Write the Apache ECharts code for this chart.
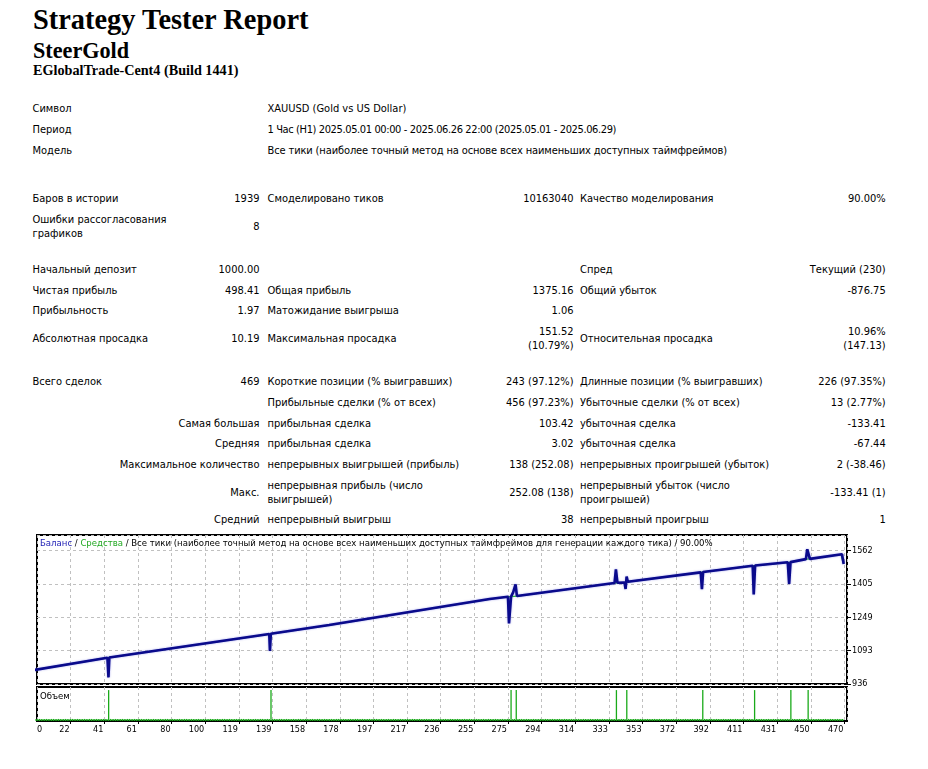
<!DOCTYPE html>
<html>
<head>
<meta charset="utf-8">
<script src="https://cdn.jsdelivr.net/npm/echarts@6/dist/echarts.min.js"></script>
<style>
    body { margin: 0; background: #fff; }
    #page { position: relative; width: 928px; height: 769px; overflow: hidden; background: #fff; color: #000;
        font-family: 'DejaVu Sans Condensed', Tahoma, sans-serif; font-size: 11px; }
    .hd { position: absolute; left: 33px; font-family: 'Liberation Serif', 'Times New Roman', serif; font-weight: bold;
        line-height: 1; white-space: nowrap; }
    .r { position: absolute; left: 0; width: 928px; height: 30px; }
    .r span { position: absolute; top: 0; line-height: 14px; white-space: nowrap; }
    .r span.m { top: 7px; }
    .r span.m6 { top: 6.5px; }
    .r span.t { line-height: 13.5px; }
    .l1 { left: 32.5px; }
    .v2 { right: 668.5px; text-align: right; }
    .l3 { left: 267.5px; }
    .v4 { right: 354.5px; text-align: right; }
    .l5 { left: 580px; }
    .v6 { right: 42.3px; text-align: right; }
    #chart { position: absolute; left: 0; top: 520px; width: 928px; height: 249px; }
</style>
</head>
<body>
<div id="page">
    <div class="hd" style="top:5.5px;font-size:28.4px">Strategy Tester Report</div>
    <div class="hd" style="top:39.5px;font-size:22.2px">SteerGold</div>
    <div class="hd" style="top:63px;font-size:14.2px">EGlobalTrade-Cent4 (Build 1441)</div>

    <div class="r" style="top:101.5px"><span class="l1">Символ</span><span class="l3">XAUUSD (Gold vs US Dollar)</span></div>
    <div class="r" style="top:122.5px"><span class="l1">Период</span><span class="l3" style="letter-spacing:-0.38px">1 Час (H1) 2025.05.01 00:00 - 2025.06.26 22:00 (2025.05.01 - 2025.06.29)</span></div>
    <div class="r" style="top:143.5px"><span class="l1">Модель</span><span class="l3" style="letter-spacing:-0.12px">Все тики (наиболее точный метод на основе всех наименьших доступных таймфреймов)</span></div>

    <div class="r" style="top:191.5px"><span class="l1">Баров в истории</span><span class="v2">1939</span><span class="l3">Смоделировано тиков</span><span class="v4">10163040</span><span class="l5">Качество моделирования</span><span class="v6">90.00%</span></div>
    <div class="r" style="top:212.5px"><span class="l1">Ошибки рассогласования<br>графиков</span><span class="v2 m">8</span></div>

    <div class="r" style="top:262.5px"><span class="l1">Начальный депозит</span><span class="v2">1000.00</span><span class="l5">Спред</span><span class="v6">Текущий (230)</span></div>
    <div class="r" style="top:283.5px"><span class="l1">Чистая прибыль</span><span class="v2">498.41</span><span class="l3">Общая прибыль</span><span class="v4">1375.16</span><span class="l5">Общий убыток</span><span class="v6">-876.75</span></div>
    <div class="r" style="top:303.5px"><span class="l1">Прибыльность</span><span class="v2">1.97</span><span class="l3">Матожидание выигрыша</span><span class="v4">1.06</span></div>
    <div class="r" style="top:324.5px"><span class="l1 m">Абсолютная просадка</span><span class="v2 m">10.19</span><span class="l3 m">Максимальная просадка</span><span class="v4">151.52<br>(10.79%)</span><span class="l5 m">Относительная просадка</span><span class="v6">10.96%<br>(147.13)</span></div>

    <div class="r" style="top:374.5px"><span class="l1">Всего сделок</span><span class="v2">469</span><span class="l3">Короткие позиции (% выигравших)</span><span class="v4">243 (97.12%)</span><span class="l5">Длинные позиции (% выигравших)</span><span class="v6">226 (97.35%)</span></div>
    <div class="r" style="top:396px"><span class="l3">Прибыльные сделки (% от всех)</span><span class="v4">456 (97.23%)</span><span class="l5">Убыточные сделки (% от всех)</span><span class="v6">13 (2.77%)</span></div>
    <div class="r" style="top:416.5px"><span class="v2">Самая большая</span><span class="l3">прибыльная сделка</span><span class="v4">103.42</span><span class="l5">убыточная сделка</span><span class="v6">-133.41</span></div>
    <div class="r" style="top:437px"><span class="v2">Средняя</span><span class="l3">прибыльная сделка</span><span class="v4">3.02</span><span class="l5">убыточная сделка</span><span class="v6">-67.44</span></div>
    <div class="r" style="top:457.5px"><span class="v2">Максимальное количество</span><span class="l3">непрерывных выигрышей (прибыль)</span><span class="v4">138 (252.08)</span><span class="l5">непрерывных проигрышей (убыток)</span><span class="v6">2 (-38.46)</span></div>
    <div class="r" style="top:479px"><span class="v2 m6">Макс.</span><span class="l3 t">непрерывная прибыль (число<br>выигрышей)</span><span class="v4 m6">252.08 (138)</span><span class="l5 t">непрерывный убыток (число<br>проигрышей)</span><span class="v6 m6">-133.41 (1)</span></div>
    <div class="r" style="top:513px"><span class="v2">Средний</span><span class="l3">непрерывный выигрыш</span><span class="v4">38</span><span class="l5">непрерывный проигрыш</span><span class="v6">1</span></div>

    <div id="chart"></div>
</div>
<script>
    // подписи осей
    const yTickLabels = ['936', '1093', '1249', '1405', '1562'];
    const xTickLabels = ['0', '22', '41', '61', '80', '100', '119', '139', '158', '178', '197', '217', '236', '255',
        '275', '294', '314', '333', '353', '372', '392', '411', '431', '450', '470'];

    // баланс (номер сделки / значение)
    const balanceTrade = [0, 43.3, 43.9, 44.4, 137.0, 137.4, 137.9, 171.7, 264.6, 275.2, 275.8, 277.0, 278.2, 279.6, 280.4,
        336.9, 337.7, 338.6, 342.7, 343.3, 343.9, 344.6, 386.8, 387.5, 388.2, 416.9, 417.5, 418.3,
        437.2, 438.0, 438.8, 447.7, 448.5, 450.0, 468.6, 469.6];
    const balanceValue = [1000, 1059, 967, 1060, 1170, 1091, 1171, 1212, 1334, 1345, 1220, 1345, 1365, 1403, 1348,
        1409, 1473, 1410, 1411, 1381, 1439, 1415, 1459, 1380, 1461, 1490, 1356, 1491,
        1506, 1405, 1507, 1521, 1567, 1522, 1544, 1498.41];

    // средства
    const equityTrade = [0, 43.3, 44.4, 137.0, 137.9, 171.7, 264.6, 275.2, 277.0, 280.4, 336.9, 338.6, 342.7, 344.6,
        386.8, 388.2, 416.9, 418.3, 437.2, 438.8, 447.7, 450.0, 468.1, 469.3];
    const equityValue = [1000, 1059, 1060, 1170, 1171, 1212, 1334, 1345, 1345, 1348, 1409, 1410, 1411, 1415,
        1459, 1461, 1490, 1491, 1506, 1507, 1521, 1522, 1543, 1501];

    // объем
    const tradeCount = 469;
    const baseLot = 0.01;
    const bigLot = 0.15;
    const bigLotTrades = [44, 138, 277, 280, 338, 344, 388, 418, 439, 449];

    const font = 'DejaVu Sans Condensed';
    // шкалы графика
    const xMin = 2.52, xMax = 471.5, xStep = 19.478;
    const yMin = 936, yMax = 1634, yStep = 156.5;

    const balanceData = balanceTrade.map((t, i) => [t, balanceValue[i]]);
    const equityData = equityTrade.map((t, i) => [t, equityValue[i]]);
    const volumeData = [];
    for (let t = 1; t <= tradeCount; t++) {
        volumeData.push([t, bigLotTrades.indexOf(t) >= 0 ? bigLot : baseLot]);
    }

    // номер деления по значению, -1 если это не деление
    const tickIndex = (v, min, step) => {
        const k = Math.round((v - min) / step);
        return Math.abs(v - (min + k * step)) < step * 0.05 ? k : -1;
    };
    const xLabel = skipFirst => v => {
        const k = tickIndex(v, xMin, xStep);
        if (k < 0 || (skipFirst ? k === 0 : k !== 0)) return '';
        return xTickLabels[k] || '';
    };
    const yLabel = v => {
        const k = tickIndex(v, yMin, yStep);
        return k < 0 ? '' : (yTickLabels[k] || '');
    };

    const gridLine = () => ({show: true, lineStyle: {color: '#c0c0c0', width: 1, type: [3, 3]}});
    const labelText = {fontFamily: font, fontSize: 9, color: '#000'};

    const chart = echarts.init(document.getElementById('chart'));
    chart.setOption({
        animation: false,
        title: [
            {
                left: 40, top: 19, padding: 0,
                text: '{b|Баланс} / {g|Средства} / Все тики (наиболее точный метод на основе всех наименьших доступных таймфреймов для генерации каждого тика) / 90.00%',
                textStyle: {
                    fontFamily: font, fontSize: 9.5, fontWeight: 'normal', color: '#000',
                    rich: {
                        b: {fontFamily: font, fontSize: 9.5, color: '#1c1cb4'},
                        g: {fontFamily: font, fontSize: 9.5, color: '#22a822'}
                    }
                }
            },
            {
                left: 40, top: 172, padding: 0, text: 'Объем',
                textStyle: {fontFamily: font, fontSize: 9.5, fontWeight: 'normal', color: '#000'}
            }
        ],
        grid: [
            {left: 37, top: 15, width: 810, height: 149, show: true, borderColor: '#000', borderWidth: 2},
            {left: 37, top: 167, width: 810, height: 34, show: true, borderColor: '#000', borderWidth: 2}
        ],
        xAxis: [
            {
                type: 'value', gridIndex: 0, min: xMin, max: xMax, interval: xStep, position: 'bottom', offset: 37,
                axisLine: {show: false},
                axisTick: {show: false},
                axisLabel: Object.assign({formatter: xLabel(false), align: 'left', margin: 4, showMaxLabel: false}, labelText),
                splitLine: gridLine()
            },
            {
                type: 'value', gridIndex: 1, min: xMin, max: xMax, interval: xStep, position: 'bottom',
                axisLine: {show: false},
                axisTick: {show: true, length: 3, lineStyle: {color: '#000'}},
                axisLabel: Object.assign({formatter: xLabel(true), align: 'right', margin: 4, padding: [0, 1, 0, 0],
                    showMinLabel: false, showMaxLabel: false}, labelText),
                splitLine: gridLine()
            }
        ],
        yAxis: [
            {
                type: 'value', gridIndex: 0, min: yMin, max: yMax, interval: yStep, position: 'right',
                axisLine: {show: false},
                axisTick: {show: true, length: 4, lineStyle: {color: '#000'}},
                axisLabel: Object.assign({formatter: yLabel, margin: 5, showMaxLabel: false}, labelText),
                splitLine: gridLine()
            },
            {
                type: 'value', gridIndex: 1, min: 0, max: 0.165, show: false
            }
        ],
        series: [
            {
                name: 'Средства', type: 'line', xAxisIndex: 0, yAxisIndex: 0, data: equityData,
                showSymbol: false, z: 2,
                lineStyle: {color: '#1fc01f', width: 1.3}
            },
            {
                name: 'Баланс', type: 'line', xAxisIndex: 0, yAxisIndex: 0, data: balanceData,
                showSymbol: false, z: 3,
                lineStyle: {color: '#0a0a8c', width: 2.6, shadowColor: 'rgba(90,90,220,0.55)', shadowBlur: 2}
            },
            {
                name: 'Объем', type: 'bar', xAxisIndex: 1, yAxisIndex: 1, data: volumeData,
                barWidth: 1.3, itemStyle: {color: '#1aaa1a'}
            }
        ]
    });
</script>
</body>
</html>
